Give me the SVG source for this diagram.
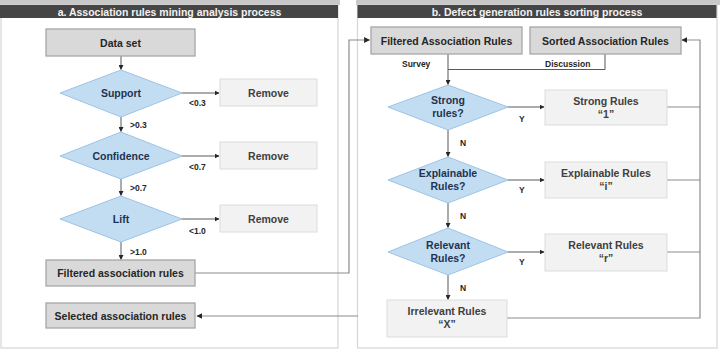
<svg xmlns="http://www.w3.org/2000/svg" width="720" height="352" viewBox="0 0 720 352">
<defs>
<marker id="arr" viewBox="0 0 10 10" refX="9" refY="5" markerWidth="5" markerHeight="5" orient="auto">
<path d="M0,0 L10,5 L0,10 z" fill="#262626"/>
</marker>
<style>
text{font-family:"Liberation Sans",Arial,sans-serif;font-weight:bold;}
.hdr{fill:#454545;}
.hdrt{fill:#f2f2f2;font-size:10.5px;text-anchor:middle;}
.frame{fill:#ffffff;stroke:#d6d6d6;stroke-width:1.2;}
.gbox{fill:#d9d9d9;stroke:#a6a6a6;stroke-width:1.3;}
.lbox{fill:#f2f2f2;stroke:#dcdcdc;stroke-width:1;}
.dia{fill:#c2ddf2;stroke:#9dc3e6;stroke-width:1;}
.t{font-size:10.5px;fill:#262626;text-anchor:middle;}
.td{font-size:10.5px;fill:#1f3350;text-anchor:middle;}
.tl{font-size:10.5px;fill:#404040;text-anchor:middle;}
.s{font-size:8.5px;fill:#262626;}
.c{fill:none;stroke:#595959;stroke-width:1;}
.f{fill:none;stroke:#8c8c8c;stroke-width:1.2;}
</style>
</defs>
<rect x="0" y="0" width="720" height="352" fill="#ffffff"/>
<rect x="0" y="0" width="340" height="5" fill="#c8c8c8"/>
<rect x="356" y="0" width="364" height="5" fill="#c8c8c8"/>
<g id="panel-a">
<rect class="frame" x="1" y="5" width="337" height="343"/>
<rect class="hdr" x="0" y="5" width="338" height="13"/>
<text class="hdrt" x="169.5" y="15.5">a. Association rules mining analysis process</text>
</g>
<g id="panel-b">
<rect class="frame" x="357.5" y="5" width="359.5" height="343"/>
<rect class="hdr" x="357.5" y="5" width="359" height="13"/>
<text class="hdrt" x="537" y="15.5">b. Defect generation rules sorting process</text>
</g>
<g id="connectors">
<path class="c" d="M121,56 V69.5" marker-end="url(#arr)"/>
<path class="c" d="M182,93 H219" marker-end="url(#arr)"/>
<path class="c" d="M121,117 V131.5" marker-end="url(#arr)"/>
<path class="c" d="M182,156 H219" marker-end="url(#arr)"/>
<path class="c" d="M121,179 V195.5" marker-end="url(#arr)"/>
<path class="c" d="M182,219 H219" marker-end="url(#arr)"/>
<path class="c" d="M121,242 V259.5" marker-end="url(#arr)"/>
<path class="f" d="M195,273 H349 V40 H369.5" marker-end="url(#arr)"/>
<path class="f" d="M358,316 H197" marker-end="url(#arr)"/>
<path class="c" d="M448,54 V84.5" marker-end="url(#arr)"/>
<path class="c" d="M448,69.5 H605 V54"/>
<path class="c" d="M508,107 H544" marker-end="url(#arr)"/>
<path class="c" d="M448,130 V156.5" marker-end="url(#arr)"/>
<path class="c" d="M508,180 H544" marker-end="url(#arr)"/>
<path class="c" d="M448,203 V227.5" marker-end="url(#arr)"/>
<path class="c" d="M508,252 H544" marker-end="url(#arr)"/>
<path class="c" d="M448,275 V299.5" marker-end="url(#arr)"/>
<path class="f" d="M667,107 H700 M667,180 H700 M667,252 H700 M507,318 H700 V40 H682" marker-end="url(#arr)"/>
</g>
<g id="labels">
<text class="s" x="189" y="106">&lt;0.3</text>
<text class="s" x="130" y="128">&gt;0.3</text>
<text class="s" x="189" y="170">&lt;0.7</text>
<text class="s" x="130" y="191">&gt;0.7</text>
<text class="s" x="189" y="234">&lt;1.0</text>
<text class="s" x="130" y="255">&gt;1.0</text>
<text class="s" x="402" y="67">Survey</text>
<text class="s" x="545" y="67">Discussion</text>
<text class="s" x="519" y="122">Y</text>
<text class="s" x="460" y="146">N</text>
<text class="s" x="519" y="193">Y</text>
<text class="s" x="460" y="219">N</text>
<text class="s" x="519" y="265">Y</text>
<text class="s" x="460" y="291">N</text>
</g>
<g id="data-set">
<rect class="gbox" x="46" y="29" width="149" height="27"/>
<text class="t" x="120.5" y="46.5">Data set</text>
</g>
<g id="support">
<polygon class="dia" points="121,70 182,93 121,117 60,93"/>
<text class="td" x="121" y="97">Support</text>
</g>
<g id="remove-1">
<rect class="lbox" x="220" y="79" width="97" height="27"/>
<text class="tl" x="268.5" y="96.5">Remove</text>
</g>
<g id="confidence">
<polygon class="dia" points="121,132 182,156 121,179 60,156"/>
<text class="td" x="121" y="160">Confidence</text>
</g>
<g id="remove-2">
<rect class="lbox" x="220" y="142" width="97" height="27"/>
<text class="tl" x="268.5" y="159.5">Remove</text>
</g>
<g id="lift">
<polygon class="dia" points="121,196 182,219 121,242 60,219"/>
<text class="td" x="121" y="223">Lift</text>
</g>
<g id="remove-3">
<rect class="lbox" x="220" y="205" width="97" height="27"/>
<text class="tl" x="268.5" y="222.5">Remove</text>
</g>
<g id="filtered-a">
<rect class="gbox" x="46" y="260" width="149" height="26"/>
<text class="t" x="120.5" y="277">Filtered association rules</text>
</g>
<g id="selected-a">
<rect class="gbox" x="46" y="303" width="149" height="25"/>
<text class="t" x="120.5" y="319.5">Selected association rules</text>
</g>
<g id="filtered-b">
<rect class="gbox" x="371" y="27" width="151" height="27"/>
<text class="t" x="446.5" y="44.5">Filtered Association Rules</text>
</g>
<g id="sorted-b">
<rect class="gbox" x="530" y="27" width="151" height="27"/>
<text class="t" x="605.5" y="44.5">Sorted Association Rules</text>
</g>
<g id="strong-q">
<polygon class="dia" points="448,85 508,107 448,130 388,107"/>
<text class="td" x="448" y="104">Strong</text>
<text class="td" x="448" y="117">rules?</text>
</g>
<g id="strong-rules">
<rect class="lbox" x="545" y="90" width="122" height="35"/>
<text class="tl" x="606" y="105">Strong Rules</text>
<text class="tl" x="606" y="118">“1”</text>
</g>
<g id="explainable-q">
<polygon class="dia" points="448,157 508,180 448,203 388,180"/>
<text class="td" x="448" y="177">Explainable</text>
<text class="td" x="448" y="190">Rules?</text>
</g>
<g id="explainable-rules">
<rect class="lbox" x="545" y="162" width="122" height="36"/>
<text class="tl" x="606" y="177">Explainable Rules</text>
<text class="tl" x="606" y="190">“i”</text>
</g>
<g id="relevant-q">
<polygon class="dia" points="448,228 508,252 448,275 388,252"/>
<text class="td" x="448" y="249">Relevant</text>
<text class="td" x="448" y="262">Rules?</text>
</g>
<g id="relevant-rules">
<rect class="lbox" x="545" y="234" width="122" height="37"/>
<text class="tl" x="606" y="249">Relevant Rules</text>
<text class="tl" x="606" y="262">“r”</text>
</g>
<g id="irrelevant-rules">
<rect class="lbox" x="387" y="300" width="120" height="37"/>
<text class="tl" x="447" y="315">Irrelevant Rules</text>
<text class="tl" x="447" y="328">“X”</text>
</g>
</svg>
